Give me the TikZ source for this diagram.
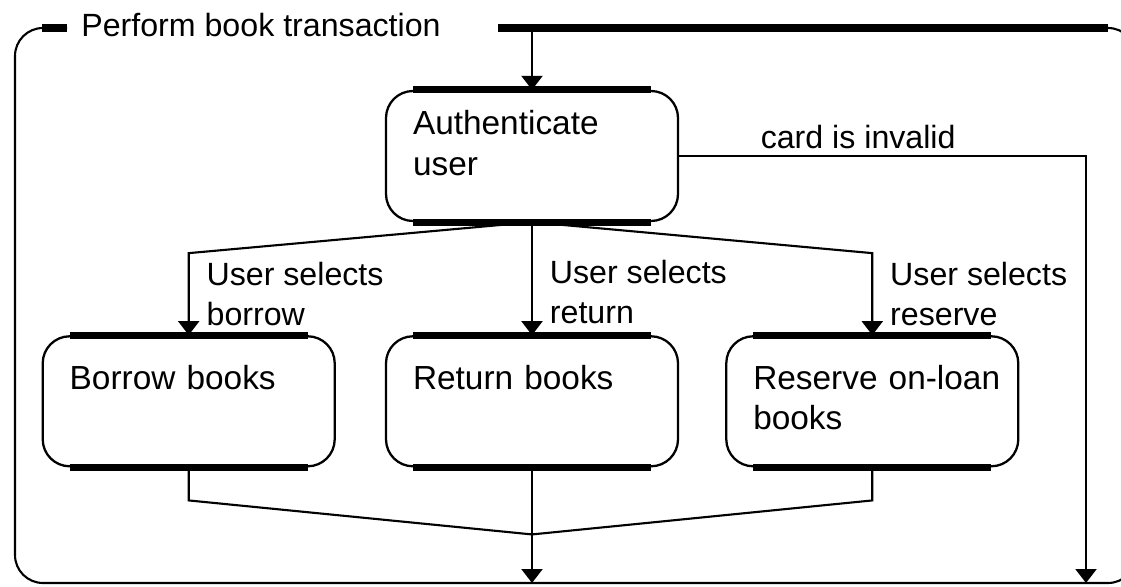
\documentclass[tikz,border=0pt]{standalone}
\usepackage{fontspec}
\setmainfont{Liberation Sans}
\usetikzlibrary{arrows.meta,positioning}
\tikzset{%
  >={Triangle[width=4.2mm,length=2.8mm]},
  % Specifications for style of nodes:
      activity/.style = {rectangle, rounded corners=5.4mm, draw=black,
                         line width=1.3pt, inner xsep=5.4mm, inner ysep=0pt,
                         text width=47.6mm, align=left,
                         font=\fontsize{19}{22.8}\selectfont,
                         text height=10.6mm, text depth=15.4mm},
           bar/.style = {line width=4pt},
         guard/.style = {right, align=left, xshift=2.2mm},
          flow/.style = {line width=1.2pt},
}

\begin{document}
\begin{tikzpicture}[x=0.2mm, y=-0.2mm,
    every node/.style={font=\fontsize{18.3}{22.8}\selectfont}]
  \useasboundingbox (0,0) rectangle (1121,587);
  % Frame of the superstate with its title
  \draw[flow, rounded corners=5.6mm] (67,28) -| (15,583) -| (1136,28) -- (498,28);
  \draw[bar] (42,28) -- (67,28);
  \draw[bar] (498,28) -- (1108,28);
  \node (title) [anchor=base west, inner xsep=0pt] at (81,37)
                                              {Perform book transaction};
  % Specification of activities (position, etc.)
  \node (auth)    [activity, text height=8.8mm, text depth=17.2mm]
                                        at (532,156) {Authenticate\\user};
  \node (ret)     [activity, below=2.26cm of auth]  {Return books};
  \node (borrow)  [activity, left=0.98cm of ret]    {Borrow books};
  \node (reserve) [activity, right=0.92cm of ret]
                                        {\mbox{Reserve on-loan}\\books};
  \foreach \n in {auth,borrow,ret,reserve} {
    \draw[bar] ([xshift=5.6mm]\n.north west) -- ([xshift=-5.6mm]\n.north east);
    \draw[bar] ([xshift=5.6mm]\n.south west) -- ([xshift=-5.6mm]\n.south east);
  }
  \coordinate (start)   at (532,28);
  \coordinate (merge)   at ([yshift=-1.34cm]ret.south);
  \coordinate (endMain) at (532,583);
  \coordinate (endFail) at (1086,583);
  % Transitions between activities, with guards
  \draw[flow,->]     (start) -- (auth);
  \draw[flow,->] (auth.east) -| node[pos=0.22, above] {card is invalid}
                                (endFail);
  \draw[flow,->] (auth.south) -- ([yshift=1.64cm]borrow.north) --
                 node[guard] {User selects\\borrow} (borrow.north);
  \draw[flow,->] (auth.south) --
                 node[guard, pos=0.62] {User selects\\return} (ret.north);
  \draw[flow,->] (auth.south) -- ([yshift=1.64cm]reserve.north) --
                 node[guard] {User selects\\reserve} (reserve.north);
  \draw[flow]  (borrow.south) -- ++(0,-0.66cm) -- (merge);
  \draw[flow] (reserve.south) -- ++(0,-0.66cm) -- (merge);
  \draw[flow]     (ret.south) -- (merge);
  \draw[flow,->]      (merge) -- (endMain);
\end{tikzpicture}
\end{document}
